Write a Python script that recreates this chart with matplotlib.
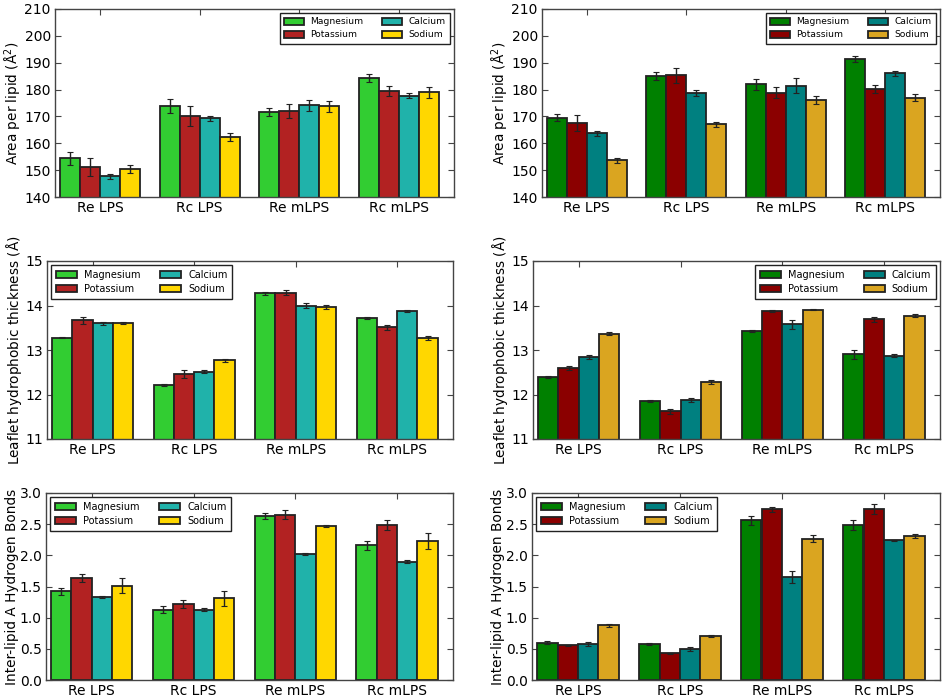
import numpy as np
import matplotlib
matplotlib.use("Agg")
import matplotlib.pyplot as plt

categories = ["Re LPS", "Rc LPS", "Re mLPS", "Rc mLPS"]
ions = ["Magnesium", "Potassium", "Calcium", "Sodium"]
colors_left = ["#32CD32", "#B22222", "#20B2AA", "#FFD700"]
colors_right = ["#008000", "#8B0000", "#008080", "#DAA520"]

# Area per lipid (left column) - per ion, values for each category
area_L = {
    "Magnesium": [154.4, 173.9, 171.8, 184.3],
    "Potassium": [151.2, 170.0, 172.0, 179.5],
    "Calcium":   [147.7, 169.3, 174.1, 177.7],
    "Sodium":    [150.5, 162.3, 173.8, 179.0],
}
area_L_err = {
    "Magnesium": [2.5, 2.5, 1.5, 1.5],
    "Potassium": [3.4, 3.7, 2.5, 2.0],
    "Calcium":   [1.0, 1.0, 2.0, 1.0],
    "Sodium":    [1.5, 1.5, 2.0, 2.0],
}
area_R = {
    "Magnesium": [169.6, 185.1, 182.0, 191.3],
    "Potassium": [167.5, 185.3, 178.9, 180.2],
    "Calcium":   [163.7, 178.7, 181.5, 186.0],
    "Sodium":    [153.7, 167.0, 176.1, 177.0],
}
area_R_err = {
    "Magnesium": [1.3, 1.4, 2.0, 1.2],
    "Potassium": [3.0, 2.8, 2.0, 1.5],
    "Calcium":   [1.0, 1.0, 2.8, 1.0],
    "Sodium":    [1.0, 1.0, 1.5, 1.2],
}
thick_L = {
    "Magnesium": [13.28, 12.21, 14.27, 13.72],
    "Potassium": [13.67, 12.46, 14.29, 13.51],
    "Calcium":   [13.60, 12.51, 14.00, 13.88],
    "Sodium":    [13.61, 12.77, 13.97, 13.27],
}
thick_L_err = {
    "Magnesium": [0.02, 0.02, 0.03, 0.03],
    "Potassium": [0.08, 0.08, 0.06, 0.06],
    "Calcium":   [0.03, 0.03, 0.06, 0.02],
    "Sodium":    [0.03, 0.03, 0.05, 0.04],
}
thick_R = {
    "Magnesium": [12.39, 11.85, 13.43, 12.90],
    "Potassium": [12.59, 11.62, 13.88, 13.69],
    "Calcium":   [12.84, 11.88, 13.58, 12.87],
    "Sodium":    [13.37, 12.28, 13.91, 13.77],
}
thick_R_err = {
    "Magnesium": [0.02, 0.02, 0.02, 0.10],
    "Potassium": [0.05, 0.05, 0.03, 0.05],
    "Calcium":   [0.04, 0.04, 0.10, 0.03],
    "Sodium":    [0.04, 0.04, 0.01, 0.03],
}
hb_L = {
    "Magnesium": [1.42, 1.13, 2.63, 2.16],
    "Potassium": [1.64, 1.22, 2.65, 2.49],
    "Calcium":   [1.33, 1.13, 2.02, 1.90],
    "Sodium":    [1.51, 1.31, 2.47, 2.23],
}
hb_L_err = {
    "Magnesium": [0.05, 0.05, 0.05, 0.07],
    "Potassium": [0.06, 0.06, 0.07, 0.08],
    "Calcium":   [0.01, 0.02, 0.02, 0.03],
    "Sodium":    [0.12, 0.12, 0.02, 0.13],
}
hb_R = {
    "Magnesium": [0.60, 0.577, 2.56, 2.48],
    "Potassium": [0.555, 0.43, 2.74, 2.74],
    "Calcium":   [0.58, 0.50, 1.655, 2.24],
    "Sodium":    [0.875, 0.705, 2.27, 2.31],
}
hb_R_err = {
    "Magnesium": [0.02, 0.02, 0.07, 0.08],
    "Potassium": [0.01, 0.01, 0.04, 0.08],
    "Calcium":   [0.03, 0.03, 0.10, 0.01],
    "Sodium":    [0.02, 0.02, 0.06, 0.03],
}

ylabel_area = r"Area per lipid ($\mathrm{\AA}^2$)"
ylabel_thick = r"Leaflet hydrophobic thickness ($\mathrm{\AA}$)"
ylabel_hb = "Inter-lipid A Hydrogen Bonds"

W, H = 945, 698
fig = plt.figure(figsize=(W / 100, H / 100), dpi=100)

def frac(l, r, t, b):
    return [l / W, 1 - b / H, (r - l) / W, (b - t) / H]

panels = [
    (frac(55, 454, 9, 197), area_L, area_L_err, colors_left, (140, 210), np.arange(140, 211, 10), ylabel_area, "upper right", "{:.0f}", 6.6),
    (frac(542, 940, 9, 197), area_R, area_R_err, colors_right, (140, 210), np.arange(140, 211, 10), ylabel_area, "upper right", "{:.0f}", 6.6),
    (frac(47, 453, 261, 439), thick_L, thick_L_err, colors_left, (11, 15), np.arange(11, 16, 1), ylabel_thick, "upper left", "{:.0f}", 7),
    (frac(533, 940, 261, 439), thick_R, thick_R_err, colors_right, (11, 15), np.arange(11, 16, 1), ylabel_thick, "upper right", "{:.0f}", 7),
    (frac(46, 453, 493, 680), hb_L, hb_L_err, colors_left, (0, 3), np.arange(0, 3.01, 0.5), ylabel_hb, "upper left", "{:.1f}", 7),
    (frac(532, 940, 493, 680), hb_R, hb_R_err, colors_right, (0, 3), np.arange(0, 3.01, 0.5), ylabel_hb, "upper left", "{:.1f}", 7),
]

width = 0.2
x = np.arange(len(categories))
spine_col = "#444444"
for rect, vals, errs, cols, ylim, yt, ylab, loc, fmt, lfs in panels:
    ax = fig.add_axes(rect)
    for k, ion in enumerate(ions):
        ax.bar(x + k * width, vals[ion], width, align="edge", color=cols[k],
               edgecolor="#222222", linewidth=1.3, label=ion,
               zorder=2)
        ax.errorbar(x + k * width + width / 2, vals[ion], yerr=errs[ion],
                    fmt="none", ecolor="#222222", elinewidth=1.0,
                    capsize=2.2, capthick=0.8, zorder=3)
    ax.set_xlim(-0.05, 3.95)
    ax.set_ylim(*ylim)
    ax.set_yticks(yt)
    ax.set_yticklabels([fmt.format(v) for v in yt])
    ax.set_xticks(x + 0.4)
    ax.set_xticklabels(categories)
    ax.tick_params(direction="in", top=True, right=True, labelsize=10,
                   color=spine_col, length=4, pad=3)
    for s in ax.spines.values():
        s.set_color(spine_col)
        s.set_linewidth(1.0)
    ax.set_ylabel(ylab, fontsize=9.8, labelpad=0.5)
    leg = ax.legend(loc=loc, ncol=2, fontsize=lfs, frameon=True, fancybox=False,
                    edgecolor="#222222", framealpha=1, handlelength=2.2,
                    handleheight=0.8, handletextpad=0.7, columnspacing=2.0,
                    borderaxespad=0.45, borderpad=0.45, labelspacing=0.45)
    leg.get_frame().set_linewidth(1.0)

fig.savefig("out.png", dpi=100)
